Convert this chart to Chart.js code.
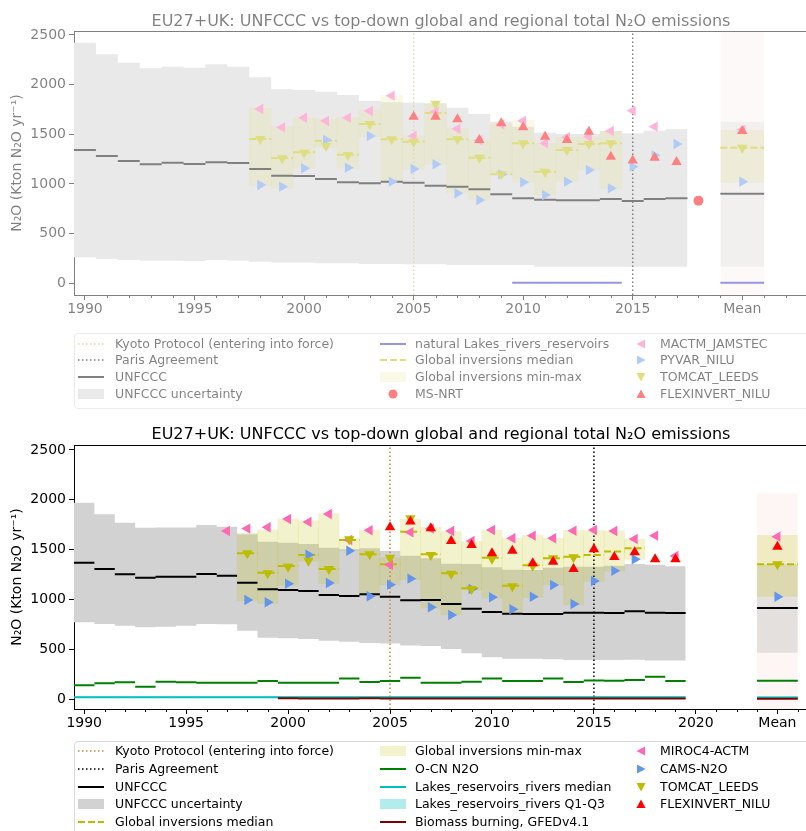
<!DOCTYPE html>
<html>
<head>
<meta charset="utf-8">
<title>EU27+UK N2O emissions</title>
<script src="https://cdn.jsdelivr.net/npm/chart.js@4.4.1/dist/chart.umd.min.js"></script>
<style>
  html, body { margin: 0; padding: 0; background: #fff; }
  body { width: 806px; height: 831px; overflow: hidden; position: relative; font-family: 'DejaVu Sans', sans-serif; }
  .panel { position: absolute; left: 0; top: 0; width: 806px; height: 831px; }
  .faded { opacity: 0.5; }
  .title { position: absolute; left: 74px; width: 734px; text-align: center; font-size: 16px; line-height: 20px; white-space: nowrap; color: #000; }
  canvas { position: absolute; left: 0; }
  .legend { position: absolute; left: 74px; border: 1px solid #d9d9d9; border-radius: 4px; background: #fff; font-size: 12.5px; color: #000; }
  .item { position: absolute; height: 18px; line-height: 18px; white-space: nowrap; }
  .item svg { position: absolute; left: 0; top: 0; }
  .item span { position: absolute; top: 0; }
</style>
</head>
<body>
<div class="panel faded">
  <div class="title" style="top:11px">EU27+UK: UNFCCC vs top-down global and regional total N₂O emissions</div>
  <canvas id="topChart" width="840" height="320" style="top:0"></canvas>
  <div class="legend" id="topLegend" style="top:333px;width:740px;height:74px"></div>
</div>
<div class="panel">
  <div class="title" style="top:424px">EU27+UK: UNFCCC vs top-down global and regional total N₂O emissions</div>
  <canvas id="botChart" width="840" height="320" style="top:414px"></canvas>
  <div class="legend" id="botLegend" style="top:741px;width:740px;height:100px"></div>
</div>
<script>
// ---- top figure ----
const topYears = [1990,1991,1992,1993,1994,1995,1996,1997,1998,1999,2000,2001,2002,2003,2004,2005,2006,2007,2008,2009,2010,2011,2012,2013,2014,2015,2016,2017];
const topUnfccc = [1341,1282,1231,1198,1214,1201,1218,1211,1151,1083,1080,1050,1017,1007,1023,1013,983,973,946,896,856,842,836,836,849,829,849,856];
const topUncHi = [2422,2305,2221,2164,2181,2171,2205,2181,2074,1953,1946,1929,1896,1835,1822,1818,1812,1768,1704,1627,1577,1516,1503,1503,1533,1510,1536,1550];
const topUncLo = [262,245,235,228,228,225,235,228,218,208,208,201,201,194,194,191,191,184,184,184,184,167,167,167,167,167,167,167];

const topInvYears = [1998,1999,2000,2001,2002,2003,2004,2005,2006,2007,2008,2009,2010,2011,2012,2013,2014];
const topInvHi = [1762,1577,1667,1651,1671,1745,1889,1483,1807,1560,1443,1600,1637,1409,1470,1476,1533];
const topInvLo = [980,956,1158,1369,1158,1476,1023,1151,1198,906,839,1097,1017,889,1023,1141,956];
const topInvMed = [1453,1262,1320,1436,1295,1604,1450,1426,1715,1450,1265,1097,1409,1124,1342,1402,1409];

const topMactmYears = [1998,1999,2000,2001,2002,2003,2004,2005,2006,2007,2008,2009,2010,2011,2012,2013,2014,2015,2016];
const topMactm = [1755,1570,1667,1634,1667,1735,1889,1483,1728,1556,1440,1600,1637,1409,1470,1476,1533,1738,1577];
const topPyvarYears = [1998,1999,2000,2001,2002,2003,2004,2005,2006,2007,2008,2009,2010,2011,2012,2013,2014,2015,2016,2017];
const topPyvar = [990,973,1158,1443,1164,1483,1023,1151,1198,906,839,1097,1017,889,1023,1141,956,1174,1288,1402];
const topTomcat = [1453,1258,1315,1382,1292,1604,1450,1426,1807,1450,1265,1097,1409,1124,1342,1402,1409];
const topFlexYears = [2005,2006,2007,2008,2009,2010,2011,2012,2013,2014,2015,2016,2017];
const topFlex = [1677,1677,1651,1443,1610,1570,1476,1443,1526,1275,1235,1265,1221];
const topLakesYears = [2010,2011,2012,2013,2014];
const topLakes = [6,6,6,6,6];
const topMsNrtYears = [2018];
const topMsNrt = [832];

// "Mean" column of the top figure
const topMeanX = 2020;
const topMeanUnc = [167, 1627];
const topMeanInv = [1013, 1543];
const topMeanUnfccc = 902, topMeanMed = 1365, topMeanMactm = 1545, topMeanPyvar = 1023;
const topMeanTomcat = 1365, topMeanFlex = 1533, topMeanLakes = 6;

// ---- bottom figure ----
const botYears = [1990,1991,1992,1993,1994,1995,1996,1997,1998,1999,2000,2001,2002,2003,2004,2005,2006,2007,2008,2009,2010,2011,2012,2013,2014,2015,2016,2017,2018,2019];
const botUnfccc = [1370,1307,1254,1220,1230,1230,1257,1240,1170,1103,1096,1086,1046,1036,1053,1029,993,996,956,909,876,859,855,855,869,869,866,883,869,866];
const botUncHi = [1972,1855,1771,1721,1724,1724,1748,1731,1655,1581,1571,1558,1521,1504,1514,1487,1440,1414,1360,1357,1324,1300,1297,1320,1330,1330,1340,1357,1350,1335];
const botUncLo = [772,755,738,722,728,738,755,752,688,618,612,605,588,578,565,560,540,535,505,461,421,408,408,401,394,394,394,398,390,390];
const botOcn = [140,160,170,126,177,170,167,167,167,184,167,167,167,210,174,184,217,167,167,177,210,184,184,210,174,190,187,194,227,184];
const botLakes = [22,22,22,22,22,22,22,22,22,22,22,22,22,22,22,22,22,22,22,22,22,22,22,22,22,22,22,22,22,22];
const botLakesQ1 = [14,14,14,14,14,14,14,14,14,14,14,14,14,14,14,14,14,14,14,14,14,14,14,14,14,14,14,14,14,14];
const botLakesQ3 = [31,31,31,31,31,31,31,31,31,31,31,31,31,31,31,31,31,31,31,31,31,31,31,31,31,31,31,31,31,31];
const botFireYears = [2000,2001,2002,2003,2004,2005,2006,2007,2008,2009,2010,2011,2012,2013,2014,2015,2016,2017,2018,2019];
const botFire = [10,9,8,9,10,9,8,9,9,8,9,8,9,8,9,8,9,8,9,8];

const botInvYears = [1998,1999,2000,2001,2002,2003,2004,2005,2006,2007,2008,2009,2010,2011,2012,2013,2014,2015,2016,2017];
const botInvHi = [1665,1700,1808,1790,1862,1610,1698,1420,1805,1725,1681,1581,1698,1615,1648,1615,1691,1691,1688,1608];
const botInvLo = [989,960,1140,1385,1163,1492,1040,1150,1200,913,846,1096,1013,879,1023,1146,946,1180,1287,1404];
const botInvMed = [1464,1270,1337,1447,1307,1598,1454,1354,1680,1454,1264,1113,1420,1140,1344,1414,1430,1447,1481,1514];

const botMirocYears = [1997,1998,1999,2000,2001,2002,2003,2004,2005,2006,2007,2008,2009,2010,2011,2012,2013,2014,2015,2016,2017,2018,2019];
const botMiroc = [1688,1712,1725,1808,1778,1858,1598,1695,1350,1675,1712,1688,1588,1698,1615,1641,1615,1690,1698,1688,1608,1641,1437];
const botCams = [996,973,1160,1450,1166,1490,1033,1150,1210,923,846,1106,1023,903,1029,1146,956,1187,1288,1404];
const botTomcatYears = [1998,1999,2000,2001,2002,2003,2004,2005,2006,2007,2008,2009,2010,2011,2012,2013,2014];
const botTomcat = [1464,1264,1330,1390,1307,1605,1454,1420,1815,1447,1260,1105,1410,1133,1340,1414,1425];
const botFlexYears = [2005,2006,2007,2008,2009,2010,2011,2012,2013,2014,2015,2016,2017,2018,2019];
const botFlex = [1725,1782,1715,1588,1548,1464,1490,1364,1380,1307,1504,1427,1474,1404,1404];

const botMeanX = 2024;
const botMeanBgTop = 2066;
const botMeanUnc = [467, 1354];
const botMeanInv = [1029, 1648];
const botMeanUnfccc = 916, botMeanMed = 1354, botMeanMiroc = 1631, botMeanCams = 1029;
const botMeanTomcat = 1354, botMeanFlex = 1531, botMeanOcn = 187, botMeanLakes = 18, botMeanFire = 6;
const botMeanLakesQ = [10, 28];

// axes
const kyotoYear = 2005, parisYear = 2015;
const yTicks = [0, 500, 1000, 1500, 2000, 2500];
const topTickYears = [1990, 1995, 2000, 2005, 2010, 2015, 2020];
const topTickLabels = ['1990', '1995', '2000', '2005', '2010', '2015', 'Mean'];
const botTickYears = [1990, 1995, 2000, 2005, 2010, 2015, 2020, 2024];
const botTickLabels = ['1990', '1995', '2000', '2005', '2010', '2015', '2020', 'Mean'];

Chart.defaults.font.family = 'DejaVu Sans';

// helpers: yearly steps centred on the year
function segs(xs, ys, half) {
  const out = [];
  xs.forEach((x, i) => out.push({x: x - half, y: ys[i]}, {x: x + half, y: ys[i]}, {x: x + half, y: null}));
  return out;
}
function stepPts(xs, ys, half) {
  const out = [];
  xs.forEach((x, i) => out.push({x: x - half, y: ys[i]}, {x: x + half, y: ys[i]}));
  return out;
}
function pts(xs, ys) { return xs.map((x, i) => ({x: x, y: ys[i]})); }

function lineDs(data, color, width, dash) {
  return {type: 'line', data: data, borderColor: color, borderWidth: width, borderDash: dash || [],
    pointRadius: 0, fill: false, spanGaps: false, tension: 0};
}
function bandDs(xs, lo, hi, color, half) {
  return [
    {type: 'line', data: stepPts(xs, hi, half), borderWidth: 0, borderColor: 'transparent', pointRadius: 0, fill: false},
    {type: 'line', data: stepPts(xs, lo, half), borderWidth: 0, borderColor: 'transparent', pointRadius: 0, fill: '-1', backgroundColor: color}
  ];
}
function boxDs(xs, lo, hi, color) {
  return {type: 'bar', data: xs.map((x, i) => ({x: x, y: [lo[i], hi[i]]})), backgroundColor: color,
    borderWidth: 0, grouped: false, categoryPercentage: 1, barPercentage: 1};
}
function markDs(xs, ys, color, rot, style, r) {
  return {type: 'line', data: pts(xs, ys), showLine: false, pointStyle: style || 'triangle', pointRotation: rot || 0,
    pointRadius: r || 6, pointBackgroundColor: color, pointBorderColor: color, pointBorderWidth: 0,
    borderColor: color, backgroundColor: color};
}
function vline(x, y0, y1, color) {
  return lineDs([{x: x, y: y0}, {x: x, y: y1}], color, 1.5, [1.5, 2.5]);
}

function framePlugin(majors) {
  return {
    id: 'frame',
    afterDraw(chart) {
      const ctx = chart.ctx, a = chart.chartArea, x = chart.scales.x;
      ctx.save();
      ctx.strokeStyle = '#000';
      ctx.lineWidth = 1;
      ctx.beginPath();
      ctx.moveTo(a.left, a.top + 0.5);
      ctx.lineTo(a.right, a.top + 0.5);
      x.ticks.forEach(t => {
        if (majors.includes(t.value)) return;
        const px = Math.round(x.getPixelForValue(t.value)) + 0.5;
        ctx.moveTo(px, a.bottom);
        ctx.lineTo(px, a.bottom + 3);
      });
      ctx.stroke();
      ctx.restore();
    }
  };
}

function makeChart(id, datasets, p) {
  datasets.forEach((d, i) => { d.order = datasets.length - i; });
  const labelOf = new Map(p.tickYears.map((v, i) => [v, p.tickLabels[i]]));
  const allYears = [];
  for (let v = p.tickFrom; v <= p.tickTo; v++) allYears.push(v);
  return new Chart(document.getElementById(id), {
    type: 'line',
    data: {datasets: datasets},
    options: {
      responsive: false, animation: false, events: [],
      layout: {padding: {top: 31, right: 32, bottom: 0, left: 0}},
      plugins: {legend: {display: false}, tooltip: {enabled: false}},
      scales: {
        x: {
          type: 'linear', min: p.xMin, max: p.xMax, offset: false,
          afterBuildTicks: s => { s.ticks = allYears.map(v => ({value: v})); },
          afterFit: s => { s.height = 25; },
          ticks: {autoSkip: false, maxRotation: 0, minRotation: 0, padding: 1, color: '#000', font: {size: 14},
            callback: v => labelOf.has(v) ? labelOf.get(v) : ''},
          grid: {drawOnChartArea: false, drawTicks: true, tickLength: 5, tickWidth: 1, offset: false,
            tickColor: c => (c.tick && labelOf.has(c.tick.value)) ? '#000' : 'rgba(0,0,0,0)'},
          border: {display: true, color: '#000', width: 1}
        },
        y: {
          type: 'linear', min: p.yMin, max: p.yMax,
          afterBuildTicks: s => { s.ticks = yTicks.map(v => ({value: v})); },
          afterFit: s => { s.width = 74; },
          ticks: {padding: 3, color: '#000', font: {size: 14}, callback: v => String(v)},
          grid: {drawOnChartArea: false, drawTicks: true, tickLength: 5, tickColor: '#000'},
          border: {display: true, color: '#000', width: 1},
          title: {display: true, text: 'N₂O (Kton N₂O yr⁻¹)', color: '#000', font: {size: 14}, padding: {top: 9, bottom: 0}}
        }
      }
    },
    plugins: [framePlugin(p.tickYears)]
  });
}

// colours
const cPink = '#ff69b4', cBlue = '#6495ed', cOlive = '#bcbc00', cRed = '#ff0000';
const cGray = '#d2d2d2', cYellow = 'rgba(191,191,0,0.2)', cMeanGray = 'rgba(180,180,180,0.35)';

// ---- top chart ----
const tYMin = -118, tYMax = 2540;
makeChart('topChart', [].concat(
  bandDs([topMeanX], [tYMin], [tYMax], 'rgba(245,150,150,0.1)', 1),
  bandDs(topYears, topUncLo, topUncHi, cGray, 0.5),
  bandDs([topMeanX], [topMeanUnc[0]], [topMeanUnc[1]], cMeanGray, 1),
  [boxDs(topInvYears, topInvLo, topInvHi, cYellow)],
  bandDs([topMeanX], [topMeanInv[0]], [topMeanInv[1]], cYellow, 1),
  [vline(kyotoYear, tYMin, tYMax, '#c8a860'), vline(parisYear, tYMin, tYMax, '#000')],
  [lineDs(segs(topYears, topUnfccc, 0.5).concat(segs([topMeanX], [topMeanUnfccc], 1)), '#000', 2)],
  [lineDs(segs(topLakesYears, topLakes, 0.5).concat(segs([topMeanX], [topMeanLakes], 1)), '#2a2ac8', 2)],
  [lineDs(segs(topInvYears, topInvMed, 0.5).concat(segs([topMeanX], [topMeanMed], 1)), cOlive, 2, [7, 3])],
  [markDs(topMactmYears.concat([topMeanX]), topMactm.concat([topMeanMactm]), cPink, -90)],
  [markDs(topPyvarYears.concat([topMeanX]), topPyvar.concat([topMeanPyvar]), cBlue, 90)],
  [markDs(topInvYears.concat([topMeanX]), topTomcat.concat([topMeanTomcat]), cOlive, 180)],
  [markDs(topFlexYears.concat([topMeanX]), topFlex.concat([topMeanFlex]), cRed, 0)],
  [markDs(topMsNrtYears, topMsNrt, cRed, 0, 'circle', 5)]
), {xMin: 1989.5, xMax: 2023, yMin: tYMin, yMax: tYMax, tickFrom: 1990, tickTo: 2022,
    tickYears: topTickYears, tickLabels: topTickLabels});

// ---- bottom chart ----
const bYMin = -97, bYMax = 2550;
makeChart('botChart', [].concat(
  bandDs([botMeanX], [bYMin], [botMeanBgTop], 'rgba(240,170,150,0.1)', 1),
  bandDs(botYears, botUncLo, botUncHi, cGray, 0.5),
  bandDs([botMeanX], [botMeanUnc[0]], [botMeanUnc[1]], cMeanGray, 1),
  bandDs(botYears, botLakesQ1, botLakesQ3, 'rgba(0,191,191,0.3)', 0.5),
  bandDs([botMeanX], [botMeanLakesQ[0]], [botMeanLakesQ[1]], 'rgba(0,191,191,0.3)', 1),
  [boxDs(botInvYears, botInvLo, botInvHi, cYellow)],
  bandDs([botMeanX], [botMeanInv[0]], [botMeanInv[1]], cYellow, 1),
  [vline(kyotoYear, bYMin, bYMax, 'peru'), vline(parisYear, bYMin, bYMax, '#000')],
  [lineDs(segs(botYears, botUnfccc, 0.5).concat(segs([botMeanX], [botMeanUnfccc], 1)), '#000', 2)],
  [lineDs(segs(botYears, botOcn, 0.5).concat(segs([botMeanX], [botMeanOcn], 1)), '#008000', 2)],
  [lineDs(segs(botYears, botLakes, 0.5).concat(segs([botMeanX], [botMeanLakes], 1)), '#00bfbf', 2)],
  [lineDs(segs(botFireYears, botFire, 0.5).concat(segs([botMeanX], [botMeanFire], 1)), '#800000', 2)],
  [lineDs(segs(botInvYears, botInvMed, 0.5).concat(segs([botMeanX], [botMeanMed], 1)), cOlive, 2, [7, 3])],
  [markDs(botMirocYears.concat([botMeanX]), botMiroc.concat([botMeanMiroc]), cPink, -90)],
  [markDs(botInvYears.concat([botMeanX]), botCams.concat([botMeanCams]), cBlue, 90)],
  [markDs(botTomcatYears.concat([botMeanX]), botTomcat.concat([botMeanTomcat]), cOlive, 180)],
  [markDs(botFlexYears.concat([botMeanX]), botFlex.concat([botMeanFlex]), cRed, 0)]
), {xMin: 1989.5, xMax: 2025.5, yMin: bYMin, yMax: bYMax, tickFrom: 1990, tickTo: 2025,
    tickYears: botTickYears, tickLabels: botTickLabels});

// ---- legends (html) ----
function handleSvg(h) {
  const c = h.color;
  if (h.kind === 'dot') return `<line x1="0" y1="9" x2="26" y2="9" stroke="${c}" stroke-width="1.5" stroke-dasharray="1.5 2.5"/>`;
  if (h.kind === 'line') return `<line x1="0" y1="9" x2="26" y2="9" stroke="${c}" stroke-width="2"/>`;
  if (h.kind === 'dash') return `<line x1="0" y1="9" x2="26" y2="9" stroke="${c}" stroke-width="2" stroke-dasharray="7 3"/>`;
  if (h.kind === 'patch') return `<rect x="0" y="4" width="26" height="10" fill="${c}"/>`;
  if (h.kind === 'circle') return `<circle cx="13" cy="9" r="4.5" fill="${c}"/>`;
  return `<polygon points="13,4.5 17.5,13 8.5,13" fill="${c}" transform="rotate(${h.rot} 13 9)"/>`;
}
function buildLegend(id, cols, top0, step) {
  const el = document.getElementById(id);
  cols.forEach(col => col.items.forEach((it, r) => {
    const d = document.createElement('div');
    d.className = 'item';
    d.style.left = col.hx + 'px';
    d.style.top = (top0 + r * step - 9) + 'px';
    d.innerHTML = `<svg width="26" height="18">${handleSvg(it)}</svg><span style="left:${col.tx - col.hx}px">${it.label}</span>`;
    el.appendChild(d);
  }));
}

buildLegend('topLegend', [
  {hx: 3, tx: 40, items: [
    {kind: 'dot', color: '#c8a860', label: 'Kyoto Protocol (entering into force)'},
    {kind: 'dot', color: '#000', label: 'Paris Agreement'},
    {kind: 'line', color: '#000', label: 'UNFCCC'},
    {kind: 'patch', color: cGray, label: 'UNFCCC uncertainty'}]},
  {hx: 305, tx: 340, items: [
    {kind: 'line', color: '#2a2ac8', label: 'natural Lakes_rivers_reservoirs'},
    {kind: 'dash', color: cOlive, label: 'Global inversions median'},
    {kind: 'patch', color: cYellow, label: 'Global inversions min-max'},
    {kind: 'circle', color: cRed, label: 'MS-NRT'}]},
  {hx: 553, tx: 585, items: [
    {kind: 'tri', rot: -90, color: cPink, label: 'MACTM_JAMSTEC'},
    {kind: 'tri', rot: 90, color: cBlue, label: 'PYVAR_NILU'},
    {kind: 'tri', rot: 180, color: cOlive, label: 'TOMCAT_LEEDS'},
    {kind: 'tri', rot: 0, color: cRed, label: 'FLEXINVERT_NILU'}]}
], 9.5, 16.9);

buildLegend('botLegend', [
  {hx: 3, tx: 40, items: [
    {kind: 'dot', color: 'peru', label: 'Kyoto Protocol (entering into force)'},
    {kind: 'dot', color: '#000', label: 'Paris Agreement'},
    {kind: 'line', color: '#000', label: 'UNFCCC'},
    {kind: 'patch', color: cGray, label: 'UNFCCC uncertainty'},
    {kind: 'dash', color: cOlive, label: 'Global inversions median'}]},
  {hx: 305, tx: 340, items: [
    {kind: 'patch', color: cYellow, label: 'Global inversions min-max'},
    {kind: 'line', color: '#008000', label: 'O-CN N2O'},
    {kind: 'line', color: '#00bfbf', label: 'Lakes_reservoirs_rivers median'},
    {kind: 'patch', color: 'rgba(0,191,191,0.3)', label: 'Lakes_reservoirs_rivers Q1-Q3'},
    {kind: 'line', color: '#800000', label: 'Biomass burning, GFEDv4.1'}]},
  {hx: 553, tx: 585, items: [
    {kind: 'tri', rot: -90, color: cPink, label: 'MIROC4-ACTM'},
    {kind: 'tri', rot: 90, color: cBlue, label: 'CAMS-N2O'},
    {kind: 'tri', rot: 180, color: cOlive, label: 'TOMCAT_LEEDS'},
    {kind: 'tri', rot: 0, color: cRed, label: 'FLEXINVERT_NILU'}]}
], 9.3, 17.7);
</script>
</body>
</html>
